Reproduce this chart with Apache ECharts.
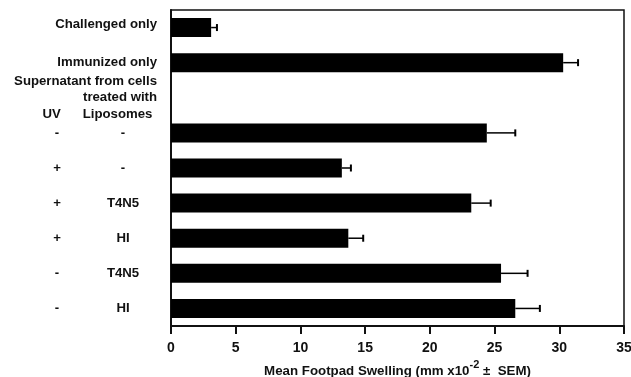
<!DOCTYPE html>
<html>
<head>
<meta charset="utf-8">
<script src="https://cdn.jsdelivr.net/npm/echarts@6/dist/echarts.min.js"></script>
<style>html,body{margin:0;padding:0;background:#fff;}#c{width:631px;height:377px;}</style>
</head>
<body>
<div id="c"></div>
<script>
// Row labels (top to bottom)
const rowIds = ['r0','r1','r2','r3','r4','r5','r6','r7','r8'];
const titleLabels = ['Challenged only', 'Immunized only', '', '', '', '', '', '', ''];
const uvCol = ['', '', 'UV', '-', '+', '+', '+', '-', '-'];
const lipCol = ['', '', 'Liposomes', '-', '-', 'T4N5', 'HI', 'T4N5', 'HI'];
const headerLines = ['Supernatant from cells', 'treated with'];
// Mean footpad swelling (mm x10^-2) and SEM
const values = [3.1, 30.3, null, 24.4, 13.2, 23.2, 13.7, 25.5, 26.6];
const errors = [0.45, 1.15, null, 2.2, 0.7, 1.5, 1.15, 2.05, 1.9];
// X-axis ticks
const xMin = 0, xMax = 35, xStep = 5;

const FONT = '"Liberation Sans", Arial, sans-serif';
const FS = 13.2;
const chart = echarts.init(document.getElementById('c'));

const errData = values.map((v, i) => v == null ? null : [v, i, errors[i]]).filter(d => d);

chart.setOption({
  animation: false,
  backgroundColor: '#fff',
  grid: { left: 171, right: 7, top: 10, bottom: 51, show: true, borderColor: '#111', borderWidth: 1.5,
          containLabel: false, outerBoundsMode: 'none' },
  xAxis: {
    type: 'value', min: xMin, max: xMax, interval: xStep,
    axisLine: { show: true, lineStyle: { color: '#111', width: 2 } },
    axisTick: { show: true, length: 8, lineStyle: { color: '#111', width: 2 } },
    splitLine: { show: false },
    axisLabel: { color: '#111', fontFamily: FONT, fontWeight: 'bold', fontSize: 14, margin: 15 },
    name: '{n|Mean Footpad Swelling (mm x10}{sup|-2}{n| ±  SEM)}',
    nameLocation: 'middle', nameGap: 32,
    nameTextStyle: {
      rich: {
        n: { fontFamily: FONT, fontWeight: 'bold', fontSize: 13.3, color: '#111' },
        sup: { fontFamily: FONT, fontWeight: 'bold', fontSize: 11, color: '#111', padding: [0, 0, 12, 0] }
      }
    }
  },
  yAxis: {
    type: 'category', data: rowIds, inverse: true,
    axisLine: { show: true, lineStyle: { color: '#111', width: 2 } },
    axisTick: { show: false },
    splitLine: { show: false },
    axisLabel: {
      margin: 14, interval: 0, align: 'right',
      formatter: function (val, idx) {
        if (idx === 0) return '{c|' + titleLabels[idx] + '}';
        if (titleLabels[idx]) return '{s|' + titleLabels[idx] + '}';
        if (idx === 2) return headerLines.map(t => '{h|' + t + '}').join('\n') + '\n{ha|' + uvCol[idx] + '}{hb|' + lipCol[idx] + '}';
        return '{a|' + uvCol[idx] + '}{b|' + lipCol[idx] + '}';
      },
      rich: {
        c: { fontFamily: FONT, fontWeight: 'bold', fontSize: FS, color: '#111', padding: [0, 0, 6, 0] },
        s: { fontFamily: FONT, fontWeight: 'bold', fontSize: FS, color: '#111' },
        h: { fontFamily: FONT, fontWeight: 'bold', fontSize: FS, color: '#111', lineHeight: 16.5 },
        ha: { fontFamily: FONT, fontWeight: 'bold', fontSize: FS, color: '#111', width: 64, align: 'center', lineHeight: 16.5 },
        hb: { fontFamily: FONT, fontWeight: 'bold', fontSize: FS, color: '#111', width: 68, align: 'center', lineHeight: 16.5 },
        a: { fontFamily: FONT, fontWeight: 'bold', fontSize: FS, color: '#111', width: 64, align: 'center' },
        b: { fontFamily: FONT, fontWeight: 'bold', fontSize: FS, color: '#111', width: 68, align: 'center' }
      }
    }
  },
  series: [
    {
      type: 'bar', data: values, barWidth: 19,
      itemStyle: { color: '#000' }
    },
    {
      type: 'custom', data: errData,
      renderItem: function (params, api) {
        const v = api.value(0), i = api.value(1), e = api.value(2);
        const p0 = api.coord([v, i]);
        const p1 = api.coord([v + e, i]);
        return {
          type: 'group',
          children: [
            { type: 'line', shape: { x1: p0[0], y1: p0[1], x2: p1[0], y2: p1[1] }, style: { stroke: '#000', lineWidth: 1.5 } },
            { type: 'line', shape: { x1: p1[0], y1: p1[1] - 3.5, x2: p1[0], y2: p1[1] + 3.5 }, style: { stroke: '#000', lineWidth: 2 } }
          ]
        };
      },
      encode: { x: 0, y: 1 }, z: 3
    }
  ]
});
</script>
</body>
</html>
